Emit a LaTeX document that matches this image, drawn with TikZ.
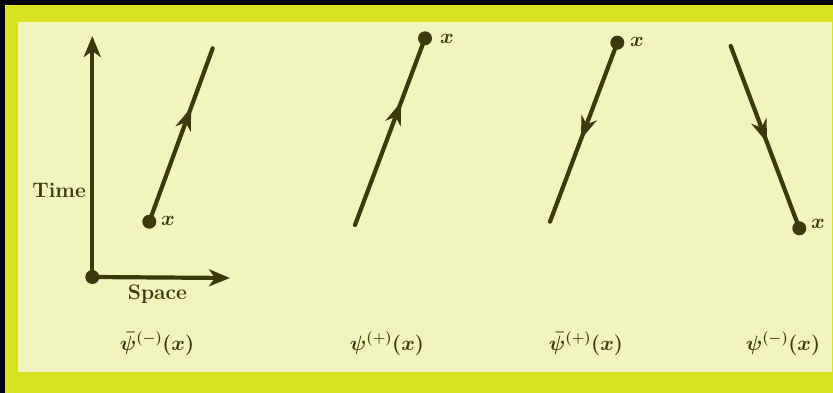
\documentclass[tikz,border=0pt]{standalone}
\usepackage{amsmath,bm}
\usetikzlibrary{arrows.meta,decorations.markings}
\definecolor{ink}{HTML}{3B3A0C}
\definecolor{frameY}{HTML}{D9E221}
\definecolor{paper}{HTML}{F2F4BE}
\tikzset{
  world/.style={line width=4.2pt,draw=ink,line cap=round},
  dot/.style={circle,fill=ink,inner sep=0pt,minimum size=14pt},
  lbl/.style={text=ink,inner sep=0pt,font=\fontsize{21}{24}\selectfont\bfseries},
  mlbl/.style={text=ink,inner sep=0pt,font=\fontsize{19.5}{22}\selectfont\boldmath},
  xlbl/.style={text=ink,inner sep=0pt,font=\fontsize{20.5}{22}\selectfont\boldmath},
  axtip/.style={-{Stealth[length=21pt,width=17pt,inset=6pt]}},
  upmark/.style={postaction={decorate},decoration={markings,
     mark=at position #1 with {\arrow{Stealth[length=23pt,width=16pt,inset=7pt]}}}},
}
\begin{document}
\begin{tikzpicture}[x=1pt,y=-1pt]
\fill[black] (0,0) rectangle (833,393);
\fill[frameY] (5,5) rectangle (833,393);
\fill[paper] (18,22.5) rectangle (832,372);
\useasboundingbox (0,0) rectangle (833,393);
% axes
\node[dot] (o) at (92.3,277) {};
\coordinate (ttip) at (92.3,36);
\coordinate (stip) at (230,278);
\draw[world,axtip,line cap=butt] (o.center) -- (ttip);
\draw[world,axtip,line cap=butt] (o.center) -- (stip);
\node[lbl,anchor=east] (time) at (86,190.5) {Time};
\node[lbl] (space) at (157.5,294) {Space};
% line 1
\node[dot] (d1) at (149.3,221.7) {};
\coordinate (e1) at (212.7,48.3);
\draw[world,upmark=0.66] (d1.center) -- (e1);
\node[xlbl,anchor=west] (x1) at (161,221) {$x$};
% line 2
\coordinate (e2) at (355,225);
\node[dot] (d2) at (425,38.3) {};
\draw[world,upmark=0.66] (e2) -- (d2.center);
\node[xlbl,anchor=west] (x2) at (440,39) {$x$};
% line 3
\node[dot] (d3) at (617.3,42.7) {};
\coordinate (e3) at (550,221.7);
\draw[world,upmark=0.54] (d3.center) -- (e3);
\node[xlbl,anchor=west] (x3) at (630,41.5) {$x$};
% line 4
\coordinate (e4) at (730.7,46);
\node[dot] (d4) at (799.3,228.3) {};
\draw[world,upmark=0.53] (e4) -- (d4.center);
\node[xlbl,anchor=west] (x4) at (811,223.5) {$x$};
% field labels
\node[mlbl,anchor=base] (l1) at (157,350) {$\bar{\psi}^{(-)}(x)$};
\node[mlbl,anchor=base] (l2) at (387,350) {$\psi^{(+)}(x)$};
\node[mlbl,anchor=base] (l3) at (586,350) {$\bar{\psi}^{(+)}(x)$};
\node[mlbl,anchor=base] (l4) at (783,350) {$\psi^{(-)}(x)$};
\end{tikzpicture}
\end{document}
